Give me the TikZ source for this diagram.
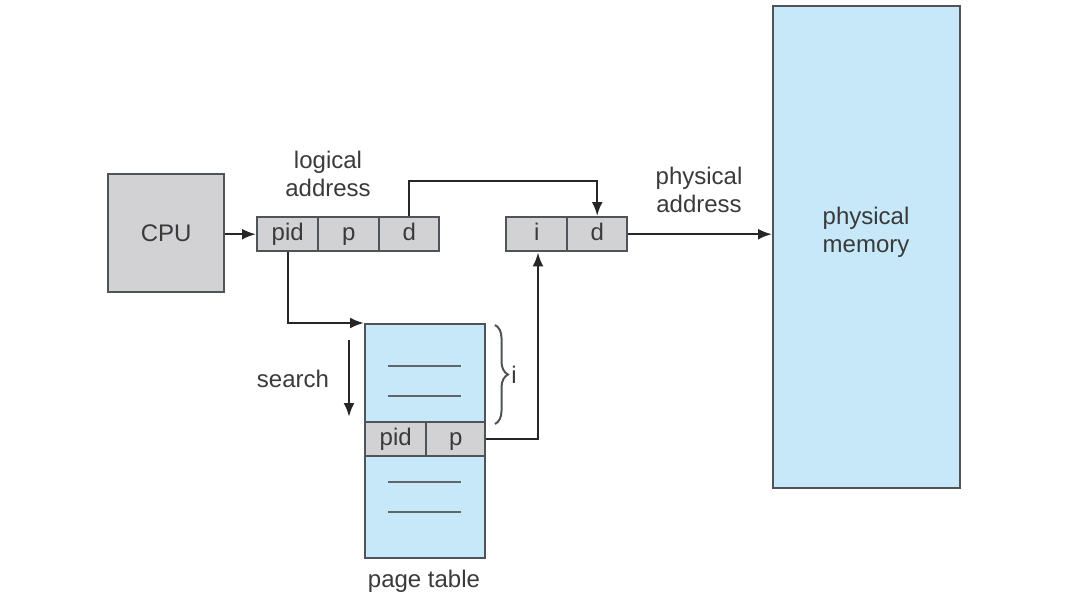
\documentclass[tikz,border=0pt]{standalone}
\usepackage{fontspec}
\setmainfont{Liberation Sans}
\usetikzlibrary{arrows.meta,decorations.pathreplacing}
\definecolor{cellgray}{HTML}{D2D2D4}
\definecolor{memblue}{HTML}{C6E8F8}
\definecolor{edge}{HTML}{505458}
\definecolor{txt}{HTML}{3A3A3A}
\begin{document}
\begin{tikzpicture}[x=1pt,y=-1pt,
  font=\fontsize{24}{28}\selectfont, text=txt,
  cell/.style={draw=edge,line width=2.4pt,fill=cellgray,minimum height=34pt,inner sep=0pt,anchor=north west,text height=17pt,text depth=5pt},
  conn/.style={draw=black!85,line width=2.4pt},
  arr/.style={conn,-{Latex[length=14pt,width=11pt]}},
  rowline/.style={draw=edge!90,line width=2.2pt}]
\useasboundingbox (0,0) rectangle (1070,602);
% CPU
\node[draw=edge,line width=2.4pt,fill=cellgray,minimum width=116pt,minimum height=118pt,anchor=north west,inner sep=0pt] (cpu) at (107,173) {CPU};
% logical address
\node[cell,minimum width=61pt] (pid) at (256,216) {pid};
\node[cell,minimum width=61pt] (p) at (317,216) {p};
\node[cell,minimum width=60pt] (d) at (378,216) {d};
\node[align=center] (la) at (328,174) {logical\\address};
% physical address
\node[cell,minimum width=61pt] (i2) at (505,216) {i};
\node[cell,minimum width=60pt] (d2) at (566,216) {d};
\node[align=center] (pa) at (699,190) {physical\\address};
% physical memory
\node[draw=edge,line width=2.4pt,fill=memblue,minimum width=187pt,minimum height=482pt,anchor=north west,inner sep=0pt] (mem) at (772,5) {};
\node[align=center] (memlbl) at (866,232) {physical\\memory};
% page table
\node[draw=edge,line width=2.4pt,fill=memblue,minimum width=120pt,minimum height=234pt,anchor=north west,inner sep=0pt] (pt) at (364,323) {};
\node[cell,minimum width=61pt] (tpid) at (364,421) {pid};
\node[cell,minimum width=59pt] (tp) at (425,421) {p};
\draw[rowline] (388,366) -- (461,366);
\draw[rowline] (388,396) -- (461,396);
\draw[rowline] (388,482) -- (461,482);
\draw[rowline] (388,512) -- (461,512);
\node (ptl) at (424,581) {page table};
% search
\coordinate (s1) at (349,340);
\coordinate (s2) at (349,417);
\draw[arr] (s1) -- (s2);
\node (search) at (293,379) {search};
% brace
\coordinate (b1) at (495,325);
\coordinate (b2) at (495,424);
\draw[draw=edge,line width=2pt,decorate,decoration={brace,amplitude=13pt}] (b1) -- (b2) node[midway,right=12pt] {i};
% connectors
\draw[arr] (cpu.east |- pid.west) -- (pid.west);
\coordinate (top) at (0,181);
\draw[arr] (d.north) |- (top -| d2.north) -- (d2.north);
\draw[arr] (d2.east) -- (mem.west |- d2.east);
\draw[arr] (pid.south) |- (pt.north west);
\coordinate (upx) at (538,0);
\draw[arr] (tp.east) -| (upx |- i2.south);
\end{tikzpicture}
\end{document}
